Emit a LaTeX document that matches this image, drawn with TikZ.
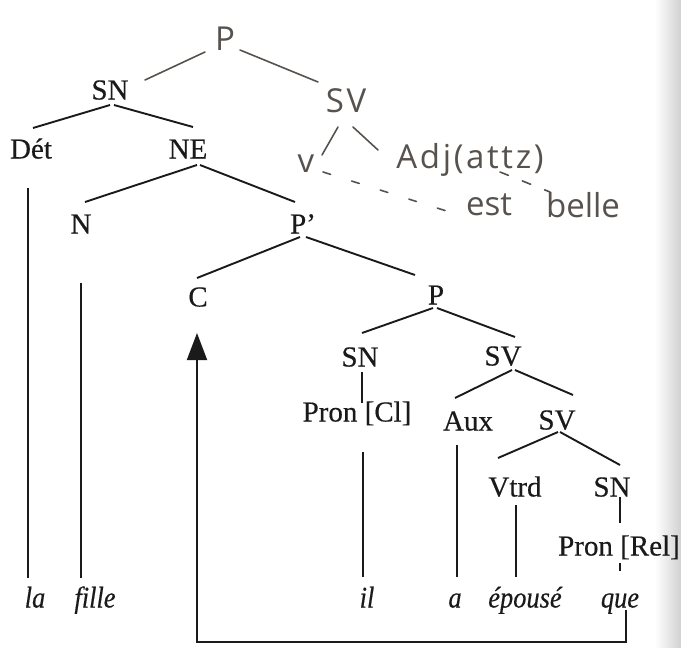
\documentclass[tikz,border=0pt]{standalone}
\usepackage{fontspec}
\setmainfont{Liberation Serif}
\newfontfamily\handfont{Open Sans}
\usetikzlibrary{arrows.meta,calc}
\definecolor{ink}{HTML}{1A1A1A}
\definecolor{pencil}{HTML}{57524D}
\tikzset{
  lab/.style={inner sep=0pt, text height=19pt, text depth=0pt, font=\fontsize{29}{31}\selectfont\addfontfeature{FakeBold=0.4}, text=ink},
  word/.style={inner sep=0pt, text height=19pt, text depth=0pt, font=\fontsize{30}{32}\selectfont\itshape\addfontfeature{FakeStretch=0.88,FakeBold=0.4}, text=ink},
  hand/.style={inner sep=0pt, text height=23pt, text depth=0pt, font=\fontsize{33}{36}\handfont, text=pencil},
  wide/.style={font=\fontsize{33}{36}\handfont\addfontfeature{LetterSpace=8}},
  branch/.style={draw=ink, line width=1.9pt},
  pbranch/.style={draw=pencil, line width=1.6pt, line cap=round},
  pdash/.style={draw=pencil, line width=1.6pt, line cap=round, dash pattern=on 8pt off 22pt},
}
\begin{document}
\begin{tikzpicture}[x=1pt,y=-1pt]
\useasboundingbox (0,0) rectangle (681,648);
\fill[left color=white, right color=black!18] (655,0) rectangle (681,648);

% printed labels
\node[lab] (SN1) at (110,90) {SN};
\node[lab] (Det) at (31,149) {Dét};
\node[lab] (NE) at (188,149) {NE};
\node[lab] (N) at (81,224) {N};
\node[lab] (Pp) at (303,224) {P'};
\node[lab] (C) at (198,297) {C};
\node[lab] (P2) at (436,295) {P};
\node[lab] (SN2) at (360,357) {SN};
\node[lab] (SV2) at (503,356) {SV};
\node[lab] (PronCl) at (357,412) {Pron [Cl]};
\node[lab] (Aux) at (468,421) {Aux};
\node[lab] (SV3) at (557,420) {SV};
\node[lab] (Vtrd) at (515,487) {Vtrd};
\node[lab] (SN3) at (612,487) {SN};
\node[lab] (PronRel) at (619,546) {Pron [Rel]};

% words
\node[word] (la) at (35,598) {la};
\node[word] (fille) at (95,598) {fille};
\node[word] (il) at (367,598) {il};
\node[word] (a) at (455,598) {a};
\node[word] (epouse) at (525,598) {épousé};
\node[word] (que) at (620,598) {que};

% handwritten labels
\node[hand] (P1) at (225,38.5) {P};
\node[hand, wide] (SV1) at (346,101) {SV};
\node[hand] (v) at (306,160.5) {v};
\node[hand, wide] (Adj) at (470,156.5) {Adj(attz)};
\node[hand] (est) at (489,203.5) {est};
\node[hand] (belle) at (583,205.5) {belle};

% printed branches
\draw[branch] ($(SN1)+(0,15)$) -- ($(Det)+(2,-21)$);
\draw[branch] ($(SN1)+(4,15)$) -- ($(NE)+(5,-22)$);
\draw[branch] ($(NE)+(9,16)$) -- ($(N)+(4,-22)$);
\draw[branch] ($(NE)+(12,16)$) -- ($(Pp)+(-8,-22)$);
\draw[branch] ($(Pp)+(-3,13)$) -- ($(C)+(-1,-19)$);
\draw[branch] ($(Pp)+(3,13)$) -- ($(P2)+(-21,-20)$);
\draw[branch] ($(P2)+(-3,13)$) -- ($(SN2)+(2,-24)$);
\draw[branch] ($(P2)+(1,13)$) -- ($(SV2)+(12,-19)$);
\draw[branch] ($(SN2)+(2,15)$) -- ($(PronCl)+(5,-9)$);
\draw[branch] ($(SV2)+(9,14)$) -- ($(Aux)+(-13,-23)$);
\draw[branch] ($(SV2)+(12,14)$) -- ($(SV3)+(16,-25)$);
\draw[branch] ($(SV3)+(1,12)$) -- ($(Vtrd)+(-17,-29)$);
\draw[branch] ($(SV3)+(3,12)$) -- ($(SN3)+(8,-22)$);
\draw[branch] ($(SN3)+(8,10)$) -- ($(PronRel)+(1,-23)$);
\draw[branch] ($(PronRel)+(1,17)$) -- ($(que)+(0,-27)$);

% lines down to the words
\draw[branch] ($(Det)+(-3,39)$) -- ($(la)+(-7,-20)$);
\draw[branch] ($(N)+(0,59)$) -- ($(fille)+(-14,-20)$);
\draw[branch] ($(PronCl)+(6,40)$) -- ($(il)+(-4,-21)$);
\draw[branch] ($(Aux)+(-11,24)$) -- ($(a)+(2,-21)$);
\draw[branch] ($(Vtrd)+(1,18)$) -- ($(epouse)+(-9,-21)$);

% movement arrow
\draw[branch, -{Triangle[length=27pt,width=20pt]}]
  ($(que)+(6,12)$) -- ++(0,32) -| ($(C)+(-1,36)$);

% handwritten branches
\draw[pbranch] ($(P1)+(-20,13.5)$) -- ($(SN1)+(35,-10)$);
\draw[pbranch] ($(P1)+(15,11.5)$) -- ($(SV1)+(-28,-19)$);
\draw[pbranch] ($(SV1)+(-8,26)$) -- ($(v)+(16,-5.5)$);
\draw[pbranch] ($(SV1)+(7,26)$) -- ($(Adj)+(-92,-6.5)$);
\draw[pdash] ($(v)+(17,11.5)$) -- ($(est)+(-33,10.5)$);
\draw[pdash, dash pattern=on 9pt off 15pt] ($(Adj)+(30,15.5)$) -- ($(belle)+(-33,-13.5)$);
\end{tikzpicture}
\end{document}
